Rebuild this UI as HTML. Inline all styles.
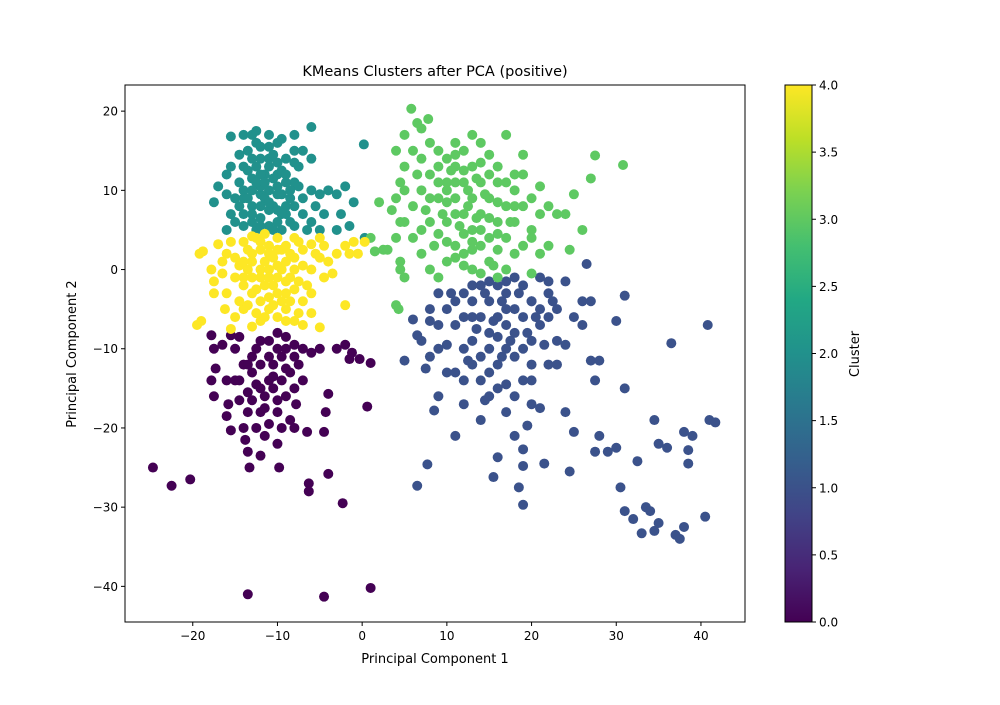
<!DOCTYPE html>
<html><head><meta charset="utf-8">
<style>
body{margin:0;background:#fff;font-family:"Liberation Sans","DejaVu Sans",sans-serif;}
svg text{font-family:"DejaVu Sans","Liberation Sans",sans-serif;}
</style></head>
<body>
<svg id="chart" width="1000" height="700" xmlns="http://www.w3.org/2000/svg">
<defs>
<linearGradient id="viridis" x1="0" y1="1" x2="0" y2="0">
<stop offset="0" stop-color="#440154"/><stop offset="0.1" stop-color="#482475"/>
<stop offset="0.2" stop-color="#414487"/><stop offset="0.3" stop-color="#355f8d"/>
<stop offset="0.4" stop-color="#2a788e"/><stop offset="0.5" stop-color="#21918c"/>
<stop offset="0.6" stop-color="#22a884"/><stop offset="0.7" stop-color="#44bf70"/>
<stop offset="0.8" stop-color="#7ad151"/><stop offset="0.9" stop-color="#bddf26"/>
<stop offset="1" stop-color="#fde725"/>
</linearGradient>
<clipPath id="plotclip"><rect x="125" y="85" width="620" height="537"/></clipPath>
</defs>
<text x="435" y="76" font-size="14.5" text-anchor="middle">KMeans Clusters after PCA (positive)</text>
<g id="points" clip-path="url(#plotclip)"></g>
<rect x="125" y="85" width="620" height="537" fill="none" stroke="#000" stroke-width="1"/>
<g id="xticks"></g>
<g id="yticks"></g>
<text x="435" y="663" font-size="13" text-anchor="middle">Principal Component 1</text>
<text x="76" y="354" font-size="13" text-anchor="middle" transform="rotate(-90 76 354)">Principal Component 2</text>
<rect x="785" y="85" width="27" height="537" fill="url(#viridis)" stroke="#000" stroke-width="1"/>
<g id="cbticks"></g>
<text x="859" y="354" font-size="13" text-anchor="middle" transform="rotate(-90 859 354)">Cluster</text>
</svg>
<script>
const clusterColors = ["#440154","#3b528b","#21918c","#5ec962","#fde725"];
const xTicks = [-20,-10,0,10,20,30,40];
const yTicks = [20,10,0,-10,-20,-30,-40];
const cbTicks = [0,0.5,1,1.5,2,2.5,3,3.5,4];
const cluster0 = [[-24.7,-25],[-22.5,-27.3],[-20.3,-26.5],[-13.5,-41],[-4.5,-41.3],[1,-40.2],[-6.3,-27],[-6.3,-28],[-4,-25.8],[-2.3,-29.5],[-4.5,-20.5],[0.6,-17.3],[-1.5,-11.3],[1,-11.8],[-0.3,-11.3],[-2,-9.5],[-1.2,-10.5],[-3,-10],[-5,-10],[-4,-15.7],[-4.3,-18],[-6.5,-20.5],[-7.8,-17],[-13.5,-23],[-13.3,-25],[-9.8,-25],[-13.8,-21.5],[-14,-20],[-15.5,-20.3],[-15.8,-17],[-16,-18.5],[-17.5,-16],[-17.8,-14],[-16,-14],[-17.3,-12.5],[-17.5,-10],[-17.8,-8.3],[-16.5,-9.5],[-15,-10],[-15.5,-8.3],[-14,-12],[-13,-11],[-12,-9],[-11,-9],[-10,-8],[-9,-8.5],[-8,-9.5],[-7,-10],[-6,-10.5],[-7.5,-12],[-8.5,-13],[-9.5,-14],[-10.5,-15],[-11.5,-16],[-12.5,-14.5],[-13.5,-15.5],[-14.5,-16.5],[-12,-18],[-11,-19.5],[-10,-18],[-9,-16],[-8,-15],[-7,-14],[-9.5,-20],[-11.5,-21],[-12.5,-20],[-8.5,-19],[-10.5,-12],[-11,-11],[-13,-13],[-15,-14],[-14.5,-8.5],[-12.5,-10],[-9.5,-11],[-13.5,-18],[-10,-22],[-12,-23.5],[-8,-20],[-10,-10],[-12,-12],[-11,-14],[-9,-12.5],[-13,-16.5],[-10,-16.5],[-12,-15],[-10.5,-13.5],[-9,-10],[-11.5,-17.5],[-13.5,-12],[-8,-11],[-14.5,-14]];
const cluster1 = [[5,-11.5],[7,-9],[7.5,-12.5],[6.5,-8.3],[6.5,-27.3],[7.7,-24.6],[8.5,-17.8],[9,-16],[8,-11],[9,-7],[10,-5],[10,-9.5],[11,-13],[11,-21],[12,-17],[12,-10],[13,-6],[13,-12],[14,-14],[14,-19],[15,-8],[15,-16],[15.5,-26.2],[16,-23.7],[16,-12],[17,-10],[17,-18],[18,-16],[18,-21],[18.5,-27.5],[19,-29.7],[19,-24.8],[19,-22.7],[19.5,-19.7],[19,-14],[20,-12],[20,-17],[21,-17.5],[21.5,-24.5],[21,-7],[22,-12],[23,-9],[24,-18],[24.5,-25.5],[25,-20.5],[24,-9.5],[25,-6],[26,-4],[27,-4],[26,-7],[27,-11.5],[27.5,-14],[28,-11.5],[27.5,-23],[28,-21],[29,-23],[30,-22.5],[30,-6.5],[31,-3.3],[31,-15],[30.5,-27.5],[31,-30.5],[32,-31.5],[32.5,-24.2],[33,-33.3],[33.5,-30],[34,-30.5],[34.5,-33],[35,-32],[34.5,-19],[35,-22],[36,-22.5],[36.5,-9.3],[37,-33.5],[37.5,-34],[38,-32.5],[38.5,-22.8],[39,-21],[38,-20.5],[38.5,-24.5],[40.5,-31.2],[40.8,-7],[41,-19],[41.7,-19.3],[14,-2],[15,-4],[16,-6],[17,-3],[18,-5],[19,-2],[20,-4],[21,-1],[22,-3],[23,-5],[24,-1.5],[26.5,0.7],[12,-3],[11,-4],[9,-3],[13,-2],[8,-5],[16,-2],[18,-8],[19,-10],[20,-9],[22,-6],[21,-5],[17,-7],[16,-15],[13,-9],[14,-11],[10,-13],[12,-14],[9,-10],[15,-13],[20,-14],[23,-12],[17,-14.5],[14.5,-16.5],[8,-6.5],[6,-6.3],[18,-1],[22,-1.5],[14,-6],[15,-10],[16,-8.5],[18,-11],[19,-6],[20,-4],[17,-5],[13,-4],[15,-1.5],[11,-7],[12,-6],[14.5,-3],[16.5,-4],[18.5,-3],[20.5,-6],[19.5,-8],[17.5,-9],[15.5,-6.5],[13.5,-7.5],[12.5,-11.5],[16.5,-11],[21.5,-9.5],[22.5,-4],[10.5,-3],[17,-1.5]];
const cluster2 = [[-17.5,8.5],[-17,10.5],[-16,5],[-15.5,7],[-15,9],[-14.5,11],[-14,13],[-13.5,15],[-13,17],[-12.5,16],[-12,14],[-11.5,12],[-11,10],[-10.5,8],[-10,6],[-9.5,5],[-9,7],[-8.5,9],[-8,11],[-7.5,13],[-7,15],[-6,18],[-6,14],[-8,17],[-10,16],[-11,15.5],[-12.5,17.5],[-15.5,16.8],[-14,17],[-15.5,13],[-16,12],[-13,11.5],[-14,10],[-12,9.5],[-13,8],[-14,7],[-15,6],[-12,6.5],[-11,5.5],[-10,9.5],[-9,11],[-8,13.5],[-7,9],[-6,10],[-5,9.5],[-4.5,7],[-4,10],[-3,9.5],[-2,10.5],[-2.5,7],[-1.5,5.5],[-3,5],[-5,5],[-6,6],[-7,7],[-8,5.5],[-9,8],[-10,12],[-11,13],[-12,12],[-13,14],[-11,7.5],[-12,10.5],[-13,6],[-14,9],[-16,9.5],[-5.5,8],[-6.5,5],[0.2,15.8],[-8,15],[-9,14],[-14.5,14.5],[-11,17],[-9.5,16.5],[-10,10.5],[-12.5,5],[-1,8.5],[0.3,4],[-13.5,12.5],[-12.5,11],[-11.5,9],[-10.5,11.5],[-9.5,12.5],[-8.5,6],[-9.5,9.5],[-13,10],[-12,8],[-10,7.5],[-11,14],[-14,5.5],[-8,8],[-7.5,10.5],[-12.5,13],[-11.5,11],[-10.5,14.5],[-9.5,7],[-13.5,9],[-12,5.5],[-10.5,5],[-14.5,8],[-11,8.5],[-9,12],[-12,15.5],[-13,7],[-8.5,10],[-10,13.5]];
const cluster3 = [[5.8,20.3],[7.8,19],[7,17.8],[6.5,18.5],[5,17],[4,15],[5,13],[4.5,11],[4,9],[3.5,7.5],[4.5,6],[4,4],[3,2.5],[4.5,1],[4.5,0],[5,-1],[4,-4.5],[4.3,-5],[1.5,2.3],[2.5,2.5],[1,4],[2,8.5],[6,15],[7,14],[8,16],[9,15],[10,14],[11,16],[12,15],[13,17],[14,16],[15,14.5],[16,13],[17,17],[19,14.5],[17,11],[18,10],[19,12],[20,9],[21,10.5],[22,8],[21,7],[20,5],[19,3],[18,2],[17,0],[16,-1],[15,1],[14,3],[13,5],[12,7],[11,9],[10,11],[9,13],[8,12],[7,10],[6,8],[5,6],[6,4],[7,2],[8,0],[9,-1],[10,1],[11,3],[12,2],[13,0],[14,-0.5],[15,4],[16,6],[17,8],[18,6],[19,8],[20,4],[21,2],[22,3],[23,7],[24,7],[25,9.5],[24.5,2.5],[26,5],[27,11.5],[27.5,14.4],[30.8,13.2],[12,11],[13,9],[14,11],[15,9],[10,6],[11,13],[12,12.5],[9,9],[8,6],[10,3.5],[16,11],[7,5],[13,13],[14,7],[17,4],[18,12],[11,7],[9,4.5],[16,2.5],[20,-0.5],[5,10],[6.5,12],[15,6.5],[10,8.5],[12,4.5],[14,5],[13,2.5],[11,11],[9,11],[8,9],[15,12],[16,8.5],[18,8],[11,1.5],[12.5,8],[13.5,6.5],[14.5,9.5],[10.5,12.5],[11.5,5.5],[12.5,10],[13.5,11.5],[9.5,7],[8.5,3],[10,10],[14,13.5],[16,4.5],[15.5,0.5],[17.5,6],[12,0.5],[11,14.5],[7.5,7.5],[13,3.5]];
const cluster4 = [[-19.5,-7],[-19,-6.5],[-18.8,2.3],[-19.2,2],[-17.5,-1.5],[-17.5,-3],[-17.8,0],[-17,3.2],[-16.5,-0.5],[-16,-3],[-16.2,-5],[-15.5,-7.5],[-15,-6],[-14.5,-4],[-14,-2],[-13.5,0],[-13,2],[-12.5,4],[-12,-1],[-11.5,1],[-11,3],[-10.5,-2],[-10,0.5],[-9.5,2.5],[-9,-3],[-8.5,-1],[-8,1.5],[-7.5,3.5],[-7,-4],[-6.5,-2],[-6,0],[-5.5,2],[-5,4],[-4.5,-1],[-4,1],[-5,-7.3],[-7,-7],[-8,-6.5],[-10,-6],[-12,-6.5],[-13,-7.2],[-14,-5],[-11,-5],[-9,-5],[-6,-5.5],[-13,-3],[-11,-3.5],[-15,-1],[-15,1.5],[-16,2],[-14,3.5],[-10,4],[-8,4],[-6,3.2],[-4.5,3],[-3.5,-0.5],[-2,-4.5],[-2,3],[-1,3.5],[-0.5,2],[-1.5,2],[0.3,3.5],[-12,0],[-13,1],[-11,2],[-10,-1],[-9,1],[-12.5,-2.5],[-14.5,0.5],[-16.5,1],[-8,-2.5],[-7,0.5],[-6,-3],[-5,1.5],[-9.5,-4],[-13.5,-4.5],[-11.5,4.5],[-7,2.5],[-15.5,3.5],[-3,2],[-12,2.5],[-10.5,1.5],[-9,3],[-13,-1],[-11.5,-2],[-8,0],[-7.5,-1.5],[-12,-4],[-10,-3],[-14,1],[-11,0],[-9,-1.5],[-12.5,-5.5],[-10.5,-4.5],[-8.5,-4],[-13.5,2.5],[-11,-1],[-9.5,0],[-12,3.5],[-10,2.5],[-14,-1],[-8.5,2],[-11.5,-6],[-7.5,-5.5],[-13,4.2],[-9,-6.5]];
const clusters = [cluster0, cluster1, cluster2, cluster3, cluster4];

const NS = "http://www.w3.org/2000/svg";
const X0 = -28.0, X1 = 45.2, Y0 = -44.5, Y1 = 23.3;
const PL = 125, PR = 745, PT = 85, PB = 622;
function xs(v){ return PL + (v - X0) / (X1 - X0) * (PR - PL); }
function ys(v){ return PB - (v - Y0) / (Y1 - Y0) * (PB - PT); }
function cs(v){ return 622 - v / 4 * 537; }

const gp = document.getElementById("points");
clusters.forEach((pts, ci) => {
  pts.forEach(p => {
    const c = document.createElementNS(NS, "circle");
    c.setAttribute("cx", xs(p[0]));
    c.setAttribute("cy", ys(p[1]));
    c.setAttribute("r", 5);
    c.setAttribute("fill", clusterColors[ci]);
    
    
    gp.appendChild(c);
  });
});

const gx = document.getElementById("xticks");
xTicks.forEach(t => {
  const l = document.createElementNS(NS, "line");
  l.setAttribute("x1", xs(t)); l.setAttribute("x2", xs(t));
  l.setAttribute("y1", PB); l.setAttribute("y2", PB + 4);
  l.setAttribute("stroke", "#000");
  
  
  gx.appendChild(l);
  const tx = document.createElementNS(NS, "text");
  tx.setAttribute("x", xs(t)); tx.setAttribute("y", PB + 18);
  tx.setAttribute("font-size", "12"); tx.setAttribute("text-anchor", "middle");
  tx.textContent = t < 0 ? "\u2212" + Math.abs(t) : String(t);
  
  
  gx.appendChild(tx);
});
const gy = document.getElementById("yticks");
yTicks.forEach(t => {
  const l = document.createElementNS(NS, "line");
  l.setAttribute("x1", PL - 4); l.setAttribute("x2", PL);
  l.setAttribute("y1", ys(t)); l.setAttribute("y2", ys(t));
  l.setAttribute("stroke", "#000");
  
  
  gy.appendChild(l);
  const tx = document.createElementNS(NS, "text");
  tx.setAttribute("x", PL - 7); tx.setAttribute("y", ys(t) + 4.5);
  tx.setAttribute("font-size", "12"); tx.setAttribute("text-anchor", "end");
  tx.textContent = t < 0 ? "\u2212" + Math.abs(t) : String(t);
  
  
  gy.appendChild(tx);
});
const gc = document.getElementById("cbticks");
cbTicks.forEach(t => {
  const l = document.createElementNS(NS, "line");
  l.setAttribute("x1", 812); l.setAttribute("x2", 816);
  l.setAttribute("y1", cs(t)); l.setAttribute("y2", cs(t));
  l.setAttribute("stroke", "#000");
  
  
  gc.appendChild(l);
  const tx = document.createElementNS(NS, "text");
  tx.setAttribute("x", 819); tx.setAttribute("y", cs(t) + 4.5);
  tx.setAttribute("font-size", "12");
  tx.textContent = t.toFixed(1);
  
  
  gc.appendChild(tx);
});
</script>
</body></html>
